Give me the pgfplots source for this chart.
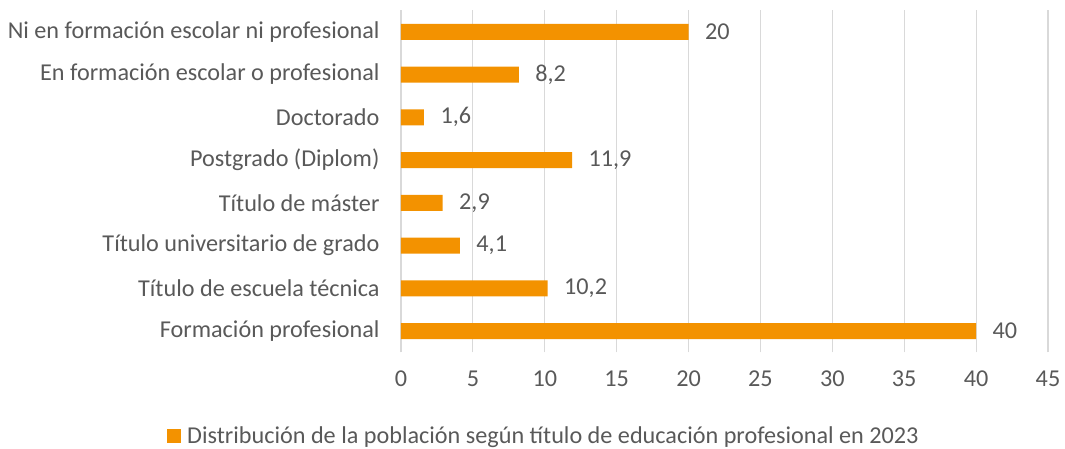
\documentclass[border=0pt]{standalone}
\usepackage{fontspec}
\setmainfont{Carlito}
\usepackage{pgfplots}
\pgfplotsset{compat=1.18}
\definecolor{barorange}{HTML}{F39200}
\definecolor{gridgray}{HTML}{D9D9D9}
\definecolor{labgray}{HTML}{595959}
\newcommand{\lblfont}{\fontsize{24.2}{27}\selectfont}
\begin{document}
\begin{tikzpicture}[x=1pt,y=1pt]
\useasboundingbox (-401,-96.6) rectangle (664,352.4);
\begin{axis}[
  at={(0,0)}, anchor=south west,
  scale only axis, width=647pt, height=342pt,
  xmin=0, xmax=45, xtick={0,5,...,45},
  ymin=-0.5, ymax=7.5,
  ytick={0,...,7},
  yticklabels={Formación profesional,Título de escuela técnica,Título universitario de grado,Título de máster,Postgrado (Diplom),Doctorado,En formación escolar o profesional,Ni en formación escolar ni profesional},
  axis line style={draw=none},
  major tick length=0pt,
  xmajorgrids, grid style={gridgray, line width=1.2pt},
  tick label style={font=\lblfont, text=labgray},
  /pgf/number format/assume math mode=true,
  xticklabel style={yshift=-15pt},
  yticklabel style={xshift=-18pt},
  legend style={at={(0.221,-0.244)}, anchor=center, draw=none, fill=none,
    font=\lblfont, text=labgray,
    /tikz/every even column/.append style={column sep=0pt}},
  legend image code/.code={\fill[barorange] (0pt,-7pt) rectangle (14pt,7pt);
    \path (18pt,0pt);},
]
\addplot[xbar, bar width=16pt, fill=barorange, draw=none,
  nodes near coords, nodes near coords align={horizontal},
  every node near coord/.append style={font=\lblfont, text=labgray, xshift=13pt},
  /pgf/number format/.cd, use comma, assume math mode=true]
  coordinates {(40,0) (10.2,1) (4.1,2) (2.9,3) (11.9,4) (1.6,5) (8.2,6) (20,7)};
\legend{Distribución de la población según título de educación profesional en 2023}
\end{axis}
\end{tikzpicture}
\end{document}
